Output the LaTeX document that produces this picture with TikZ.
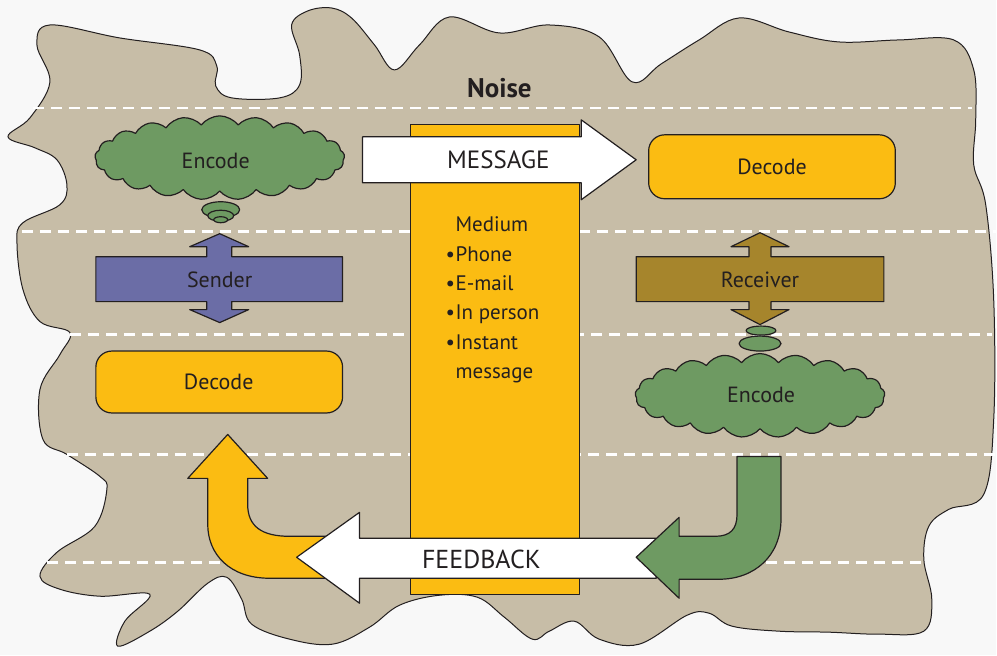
\documentclass[tikz,border=0pt]{standalone}
\usepackage{fontspec}
\setmainfont{PT Sans}
\usetikzlibrary{shapes.symbols}

\definecolor{pagebg}{HTML}{F8F8F8}
\definecolor{noisebg}{HTML}{C7BDA7}
\definecolor{inkdark}{HTML}{231F20}
\definecolor{encgreen}{HTML}{6E9A62}
\definecolor{sendpurple}{HTML}{6B6DA6}
\definecolor{recvgold}{HTML}{A6852C}
\definecolor{medyellow}{HTML}{FBBC12}

\begin{document}
\begin{tikzpicture}[x=1pt, y=-1pt,
    outl/.style={draw=inkdark, line width=1.2pt, line join=round},
    lbl/.style={text=inkdark, font=\fontsize{22}{26}\selectfont},
    biglbl/.style={text=inkdark, font=\fontsize{26}{30}\selectfont},
    noiseline/.style={draw=white, line width=2.6pt, dash pattern=on 11pt off 7pt},
    decodebox/.style={outl, fill=medyellow, rounded corners=16pt, minimum width=247pt, minimum height=62pt, inner sep=0pt},
    encodecloud/.style={outl, fill=encgreen, cloud, cloud puffs=21, cloud puff arc=105, aspect=3, minimum width=250pt, minimum height=84pt, inner sep=0pt}]

    % page and noise blob
    \fill[pagebg] (0,0) rectangle (997,656);
    \draw[fill=noisebg, draw=inkdark, line width=1pt] plot[smooth cycle, tension=0.6] coordinates {
        (50,25) (120,38) (200,50) (217,66) (216,86) (232,98) (280,98) (300,85) (300,55) (292,25)
        (308,11) (332,8) (352,18) (375,45) (395,70) (420,45) (450,17) (500,33) (550,25) (600,37)
        (633,82) (662,64) (700,40) (740,18) (790,32) (840,42) (900,40) (955,40) (975,70) (977,120)
        (975,165) (987,205) (995,300) (995,420) (985,495) (950,510) (930,527) (925,560) (933,600)
        (925,632) (880,635) (830,633) (780,632) (733,627) (710,614) (688,616) (640,645) (600,640)
        (575,622) (550,632) (533,640) (505,618) (478,598) (440,596) (400,606) (370,628) (333,645)
        (290,640) (252,625) (242,600) (227,578) (208,584) (178,612) (150,632) (118,647) (125,622)
        (150,595) (100,597) (60,590) (40,577) (57,553) (95,527) (107,490) (100,477) (67,455)
        (43,440) (40,390) (60,355) (70,333) (40,322) (23,290) (17,243) (23,223) (60,205) (67,185)
        (57,160) (35,148) (8,137) (30,118) (50,82) (37,45)};

    % noise lines
    \draw[noiseline] (33,108) -- (973,108);
    \draw[noiseline] (22,232) -- (997,232);
    \draw[noiseline] (70,335) -- (993,335);
    \draw[noiseline] (67,455) -- (997,455);
    \draw[noiseline] (47,563) -- (925,563);

    \node[text=inkdark, font=\fontsize{27}{30}\selectfont\bfseries] (noise) at (500,88) {Noise};

    % medium
    \draw[outl, fill=medyellow] (411,125) rectangle (580,595);
    \node[text=inkdark, font=\fontsize{21}{29.4}\selectfont, align=left, anchor=base west, inner sep=0pt] (medium) at (446,379)
        {\makebox[10pt][l]{}Medium\\
         \makebox[10pt][l]{\textbullet}Phone\\
         \makebox[10pt][l]{\textbullet}E-mail\\
         \makebox[10pt][l]{\textbullet}In person\\
         \makebox[10pt][l]{\textbullet}Instant\\
         \makebox[10pt][l]{}message};

    % message arrow
    \draw[outl, fill=white] (363,137) -- (582,137) -- (582,120) -- (637,160) -- (582,200) -- (582,183) -- (363,183) -- cycle;
    \node[biglbl, font=\fontsize{25}{30}\selectfont] (message) at (499,160) {MESSAGE};

    % sender side
    \node[encodecloud] (encL) at (220,158) {};
    \node[lbl] at (216,161) {Encode};
    \draw[outl, fill=encgreen] (221,210) ellipse [x radius=19, y radius=8];
    \draw[outl, fill=encgreen] (221,216) ellipse [x radius=13, y radius=5.5];
    \draw[outl, fill=encgreen] (221,220) ellipse [x radius=7, y radius=3];

    \draw[outl, fill=sendpurple] (96,257) -- (207,257) -- (207,247) -- (190,247) -- (220,234) -- (249,247) -- (232,247)
        -- (232,257) -- (343,257) -- (343,302) -- (232,302) -- (232,310) -- (249,310) -- (220,323) -- (190,310)
        -- (207,310) -- (207,302) -- (96,302) -- cycle;
    \node[lbl] (sender) at (220,280) {Sender};

    \node[decodebox] (decL) at (219.5,382.5) {};
    \node[lbl] at (219,382) {Decode};

    % receiver side
    \node[decodebox, minimum height=64pt] (decR) at (773,167) {};
    \node[lbl] at (773,167) {Decode};

    \draw[outl, fill=recvgold] (637,257) -- (750,257) -- (750,247) -- (732,247) -- (761,233) -- (790,247) -- (772,247)
        -- (772,257) -- (885,257) -- (885,302) -- (772,302) -- (772,310) -- (790,310) -- (761,325) -- (732,310)
        -- (750,310) -- (750,302) -- (637,302) -- cycle;
    \node[lbl] (receiver) at (761,280) {Receiver};

    \node[encodecloud] (encR) at (761,396) {};
    \node[lbl] at (762,395) {Encode};
    \draw[outl, fill=encgreen] (761,344) ellipse [x radius=21, y radius=7.5];
    \draw[outl, fill=encgreen] (762,331) ellipse [x radius=15, y radius=4.5];

    % feedback
    \draw[outl, fill=medyellow] (228,435) -- (268,479) -- (248,479) -- (248,505)
        .. controls (248,527) and (262,537) .. (290,537) -- (340,537) -- (340,579) -- (270,579)
        .. controls (230,579) and (208,555) .. (208,525) -- (208,479) -- (188,479) -- cycle;
    \draw[outl, fill=white] (657,539) -- (360,539) -- (360,513) -- (297,558) -- (360,604) -- (360,579) -- (657,579) -- cycle;
    \draw[outl, fill=encgreen] (738,457) -- (782,457) -- (782,520)
        .. controls (782,556) and (756,580) .. (720,580) -- (680,580) -- (680,599) -- (637,558) -- (680,518)
        -- (680,537) -- (716,537) .. controls (731,537) and (738,530) .. (738,515) -- cycle;
    \node[biglbl] (feedback) at (482,560) {FEEDBACK};

\end{tikzpicture}
\end{document}
